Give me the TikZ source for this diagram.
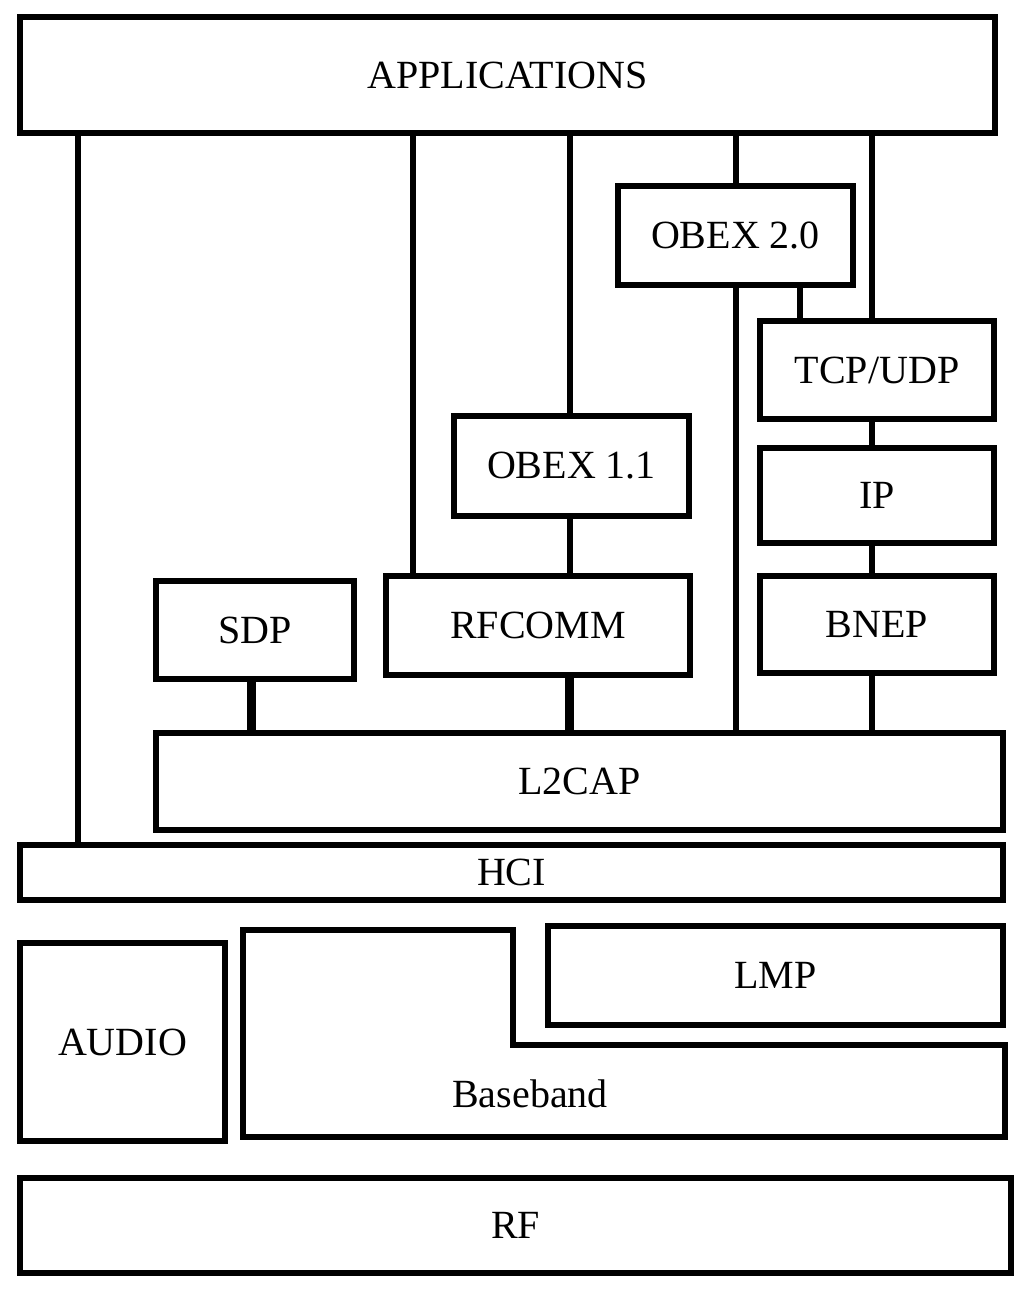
\documentclass[tikz,border=0pt]{standalone}
\usepackage{fontspec}
\setmainfont{Liberation Serif}
\begin{document}
\begin{tikzpicture}[x=1pt,y=-1pt,line width=6pt,
  box/.style={draw,rectangle,inner sep=0pt,font=\fontsize{40}{44}\selectfont},
  ln/.style={line width=6pt},thk/.style={line width=9pt}]
\useasboundingbox (0,0) rectangle (1024,1296);
\newcommand\bx[6]{\node[box,minimum width=#4-#2,minimum height=#5-#3,anchor=north west] (#1) at (#2,#3) {#6};}
\bx{app}{17}{14}{992}{130}{APPLICATIONS}
\bx{obextwo}{615}{183}{850}{282}{OBEX 2.0}
\bx{tcp}{757}{318}{991}{416}{TCP/UDP}
\bx{obexone}{451}{413}{686}{513}{OBEX 1.1}
\bx{ip}{757}{445}{991}{540}{IP}
\bx{sdp}{153}{578}{351}{676}{SDP}
\bx{rfcomm}{383}{573}{687}{672}{RFCOMM}
\bx{bnep}{757}{573}{991}{670}{BNEP}
\bx{l2cap}{153}{730}{1000}{827}{L2CAP}
\bx{hci}{17}{842}{1000}{897}{HCI}
\bx{audio}{17}{940}{222}{1138}{AUDIO}
\bx{lmp}{545}{923}{1000}{1022}{LMP}
\bx{rf}{17}{1175}{1008}{1270}{RF}
\draw (243,930) -- (513,930) -- (513,1045) -- (1005,1045) -- (1005,1137) -- (243,1137) -- cycle;
\node[font=\fontsize{40}{44}\selectfont] (bb) at (530,1094) {Baseband};
\draw[ln] (app.south -| 78,0) -- (hci.north -| 78,0);
\draw[ln] (app.south -| 413,0) -- (rfcomm.north -| 413,0);
\draw[ln] (app.south -| 570,0) -- (obexone.north -| 570,0);
\draw[ln] (obexone.south -| 570,0) -- (rfcomm.north -| 570,0);
\draw[ln] (app.south -| 736,0) -- (obextwo.north -| 736,0);
\draw[ln] (obextwo.south -| 736,0) -- (l2cap.north -| 736,0);
\draw[ln] (app.south -| 872,0) -- (tcp.north -| 872,0);
\draw[ln] (obextwo.south -| 800,0) -- (tcp.north -| 800,0);
\draw[ln] (tcp.south -| 872,0) -- (ip.north -| 872,0);
\draw[ln] (ip.south -| 872,0) -- (bnep.north -| 872,0);
\draw[ln] (bnep.south -| 872,0) -- (l2cap.north -| 872,0);
\draw[thk] (sdp.south -| 251,0) -- (l2cap.north -| 251,0);
\draw[thk] (rfcomm.south -| 569,0) -- (l2cap.north -| 569,0);
\end{tikzpicture}
\end{document}
